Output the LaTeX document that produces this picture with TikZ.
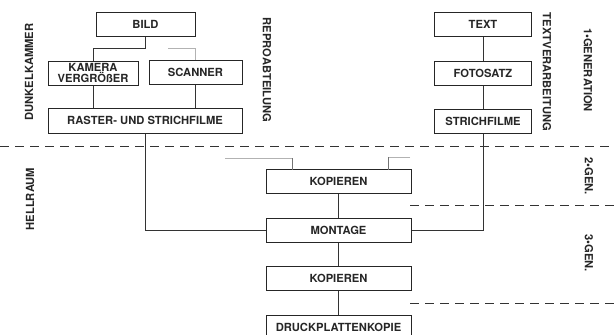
\documentclass[tikz,border=0pt]{standalone}
\usepackage{fontspec}
\setmainfont{TeX Gyre Heros}
\begin{document}
\begin{tikzpicture}[x=1pt,y=-1pt,
  box/.style={draw=black!85,line width=1pt,fill=white,inner sep=0pt,
    font=\fontsize{11.2}{10}\selectfont\bfseries,text=black!85,align=center},
  lbl/.style={font=\fontsize{11.2}{10}\selectfont\bfseries,text=black!85,inner sep=0pt},
  conn/.style={line width=0.8pt,draw=black!80},
  faint/.style={line width=0.7pt,draw=black!30},
  sep/.style={line width=0.8pt,draw=black!80,dash pattern=on 9pt off 6pt}]
\path[use as bounding box] (0,0) rectangle (614,335);
\clip (0,0) rectangle (614,335);
\fill[white] (0,0) rectangle (614,335);

% separators
\draw[sep] (0,146) -- (614,146);
\draw[sep] (410,205) -- (614,205);
\draw[sep] (410,303) -- (614,303);

% boxes
\node[box,minimum width=99pt,minimum height=24pt] (bild) at (145.5,24) {BILD};
\node[box,minimum width=90pt,minimum height=24pt] (kamera) at (93,73) {KAMERA\\VERGRÖßER};
\node[box,minimum width=93pt,minimum height=24pt] (scanner) at (195.5,72.5) {SCANNER};
\node[box,minimum width=194pt,minimum height=25pt] (raster) at (145,120.5) {RASTER- UND STRICHFILME};
\node[box,minimum width=97pt,minimum height=24pt] (text) at (483,24) {TEXT};
\node[box,minimum width=97pt,minimum height=24pt] (foto) at (483,73) {FOTOSATZ};
\node[box,minimum width=97pt,minimum height=24pt] (strich) at (483,121) {STRICHFILME};
\node[box,minimum width=145pt,minimum height=24pt] (kop1) at (338.5,181.5) {KOPIEREN};
\node[box,minimum width=145pt,minimum height=24pt] (montage) at (338.5,230) {MONTAGE};
\node[box,minimum width=145pt,minimum height=24pt] (kop2) at (338.5,278) {KOPIEREN};
\node[box,minimum width=145pt,minimum height=24pt] (druck) at (338.5,327) {DRUCKPLATTENKOPIE};

% connectors
\coordinate (j1) at (145.5,48);
\coordinate (j2) at (168,48);
\draw[conn] (bild.south) -- (j1) -| (kamera.north);
\draw[faint] (j2) -| (scanner.north);
\draw[conn] (kamera.south) -- (kamera.south |- raster.north);
\draw[conn] (scanner.south) -- (scanner.south |- raster.north);
\draw[conn] (raster.south) |- (montage.west);
\draw[conn] (text.south) -- (foto.north);
\draw[conn] (foto.south) -- (strich.north);
\draw[conn] (strich.south) |- (montage.east);
\draw[conn] (kop1.south) -- (montage.north);
\draw[conn] (montage.south) -- (kop2.north);
\draw[conn] (kop2.south) -- (druck.north);
\coordinate (fl) at (225,158);
\coordinate (fr) at (410,157);
\draw[faint] (fl) -- (292,158);
\draw[conn,draw=black!55] (292,158) -- (292,169.5);
\draw[faint] (fr) -- (388,157);
\draw[conn,draw=black!55] (388,157) -- (388,169.5);

% side labels
\node[lbl,rotate=90] (l1) at (29,72) {DUNKELKAMMER};
\node[lbl,rotate=-90] (l2) at (267,70) {REPROABTEILUNG};
\node[lbl,rotate=90] (l3) at (30,199) {HELLRAUM};
\node[lbl,rotate=-90] (l4) at (547,72) {TEXTVERARBEITUNG};
\node[lbl,rotate=-90] (l5) at (588,70) {1•GENERATION};
\node[lbl,rotate=-90] (l6) at (589,176) {2•GEN.};
\node[lbl,rotate=-90] (l7) at (589,253) {3•GEN.};
\end{tikzpicture}
\end{document}
